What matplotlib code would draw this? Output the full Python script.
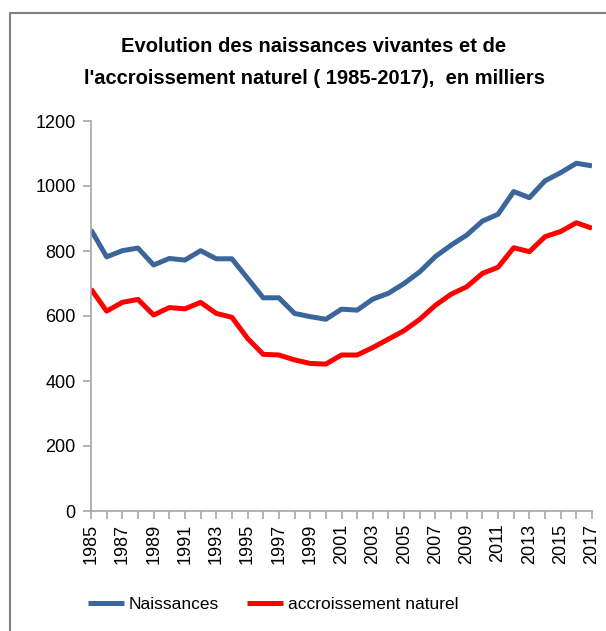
import matplotlib.pyplot as plt
from matplotlib.patches import Rectangle

years = list(range(1985, 2018))
naissances = [865, 782, 801, 809, 757, 777, 772, 801, 776, 776,
              716, 656, 656, 608, 598, 590, 621, 618, 652, 670,
              700, 736, 783, 818, 849, 892, 913, 983, 964, 1016,
              1041, 1070, 1062]
accroissement = [683, 615, 642, 651, 603, 626, 622, 642, 608, 596,
                 531, 482, 480, 465, 454, 452, 480, 480, 503, 529,
                 555, 590, 633, 667, 690, 731, 750, 810, 798, 844,
                 860, 887, 870]
y_ticks = [0, 200, 400, 600, 800, 1000, 1200]

plt.rcParams['font.family'] = ['Liberation Sans', 'DejaVu Sans']
axis_grey = '#a6a6a6'

fig = plt.figure(figsize=(6.06, 6.31), dpi=100)
ax = fig.add_axes([91 / 606, 1 - 511 / 631, (592 - 91) / 606, (511 - 121) / 631])

ax.plot(years, naissances, color='#3b6699', lw=3.6, label='Naissances', solid_capstyle='butt')
ax.plot(years, accroissement, color='#ff0000', lw=3.6, label='accroissement naturel', solid_capstyle='butt')

ax.set_xlim(1985, 2017)
ax.set_ylim(0, 1200)
ax.set_yticks(y_ticks)
ax.set_xticks(years)
ax.set_xticklabels([str(y) if (y - 1985) % 2 == 0 else '' for y in years], rotation=90)

for side in ['top', 'right']:
    ax.spines[side].set_visible(False)
for side in ['left', 'bottom']:
    ax.spines[side].set_color(axis_grey)
    ax.spines[side].set_linewidth(1.2)
ax.tick_params(axis='both', colors=axis_grey, length=6, width=1.2, labelcolor='black', labelsize=13)
ax.tick_params(axis='y', pad=5)
ax.tick_params(axis='x', pad=3)

fig.text(314 / 606, 1 - 47 / 631, 'Evolution des naissances vivantes et de',
         ha='center', va='center', fontsize=14.5, fontweight='bold')
fig.text(314 / 606, 1 - 78 / 631, "l'accroissement naturel ( 1985-2017),  en milliers",
         ha='center', va='center', fontsize=14.5, fontweight='bold')

fig.legend(loc='center', bbox_to_anchor=(273 / 606, 1 - 604 / 631), ncol=2, frameon=False,
           fontsize=12.5, handlelength=2.1, handletextpad=0.25, columnspacing=1.6)

fig.patches.append(Rectangle((10 / 606, -0.1), 1.2, 1 - 13 / 631 + 0.1, transform=fig.transFigure,
                             fill=False, edgecolor='#808080', lw=1.5))

fig.savefig('out.png', dpi=100)
